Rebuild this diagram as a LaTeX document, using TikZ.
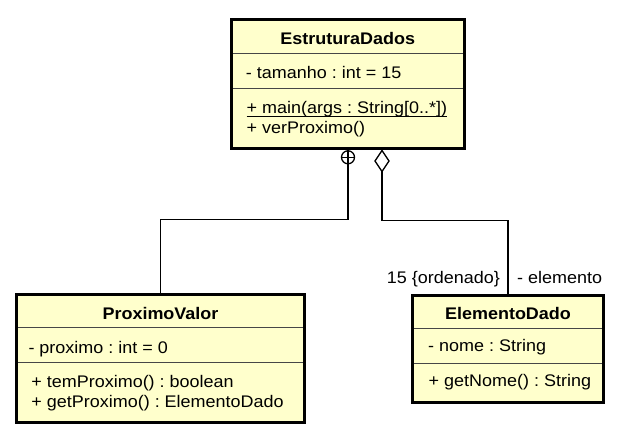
\documentclass[tikz,border=0pt]{standalone}
\usepackage{fontspec}
\setmainfont{Liberation Sans}[FakeStretch=1.07]
\usetikzlibrary{positioning}
\definecolor{classfill}{RGB}{255,255,204}
\definecolor{sepgray}{RGB}{70,70,70}
\frenchspacing
\begin{document}
\begin{tikzpicture}[x=1pt,y=-1pt,
  classbox/.style={draw=black, line width=3pt, fill=classfill, rectangle, inner sep=0pt},
  sepline/.style={draw=sepgray, line width=1pt},
  txt/.style={inner sep=0pt, anchor=base west, font=\fontsize{16.8}{20}\selectfont},
  hdr/.style={inner sep=0pt, anchor=base, font=\fontsize{16.8}{20}\selectfont\bfseries},
  conn/.style={draw=black, line width=1.3pt},
  lbl/.style={inner sep=0pt, font=\fontsize{16.8}{20}\selectfont}
]
\useasboundingbox (0,0) rectangle (622,435);
\fill[white] (0,0) rectangle (622,435);

% EstruturaDados
\node[classbox, minimum width=232.5pt, minimum height=129.5pt] (ed) at (347.75,84.25) {};
\draw[sepline] (233,53.3) -- (462.5,53.3);
\draw[sepline] (233,88.3) -- (462.5,88.3);
\node[hdr] (edh) at (347.75,45) {EstruturaDados};
\node[txt] (eda) at (245.7,78.5) {- tamanho : int = 15};
\node[txt] (edm) at (246.5,114) {+ main(args : String[0..*])};
\draw[line width=1pt] ([yshift=-3pt]edm.base west) -- ([yshift=-3pt]edm.base east);
\node[txt] (edv) at (246.5,134) {+ verProximo()};

% ProximoValor
\node[classbox, minimum width=288pt, minimum height=128pt] (pv) at (160.5,358.5) {};
\draw[sepline] (18,327.7) -- (303,327.7);
\draw[sepline] (18,362.7) -- (303,362.7);
\node[hdr] (pvh) at (160.5,320) {ProximoValor};
\node[txt] (pva) at (28.3,353.5) {- proximo : int = 0};
\node[txt] (pvm1) at (31.2,387.5) {+ temProximo() : boolean};
\node[txt] (pvm2) at (31.2,408) {+ getProximo() : ElementoDado};

% ElementoDado
\node[classbox, minimum width=191pt, minimum height=107pt] (el) at (508,349) {};
\draw[sepline] (414,328.3) -- (602,328.3);
\draw[sepline] (414,363.3) -- (602,363.3);
\node[hdr] (elh) at (508,320) {ElementoDado};
\node[txt] (ela) at (428,352) {- nome : String};
\node[txt] (elm) at (428.5,387) {+ getNome() : String};

% nesting connector
\node[circle, draw=black, line width=1.3pt, fill=white, minimum size=13pt, inner sep=0pt] (nest) at (348,157.3) {};
\draw[conn] (nest.north) -- (nest.south);
\draw[conn] (nest.west) -- (nest.east);
\coordinate (b1) at (348,219.3);
\coordinate (b2) at (160.5,219.3);
\draw[conn] (nest.south) -- (b1) -- (b2) -- (pv.north);

% aggregation connector
\coordinate (dt) at (382,150.5);
\coordinate (dl) at (375,161);
\coordinate (db) at (382,171.5);
\coordinate (dr) at (389,161);
\draw[conn, fill=white, line join=miter] (dt) -- (dl) -- (db) -- (dr) -- cycle;
\coordinate (c1) at (382,220.7);
\coordinate (c2) at (508,220.7);
\draw[conn] (db) -- (c1) -- (c2) -- (el.north);

\node[lbl, anchor=base east] (mult) at (500,283.5) {15 \{ordenado\}};
\node[lbl, anchor=base west] (role) at (517,283.5) {- elemento};
\end{tikzpicture}
\end{document}
